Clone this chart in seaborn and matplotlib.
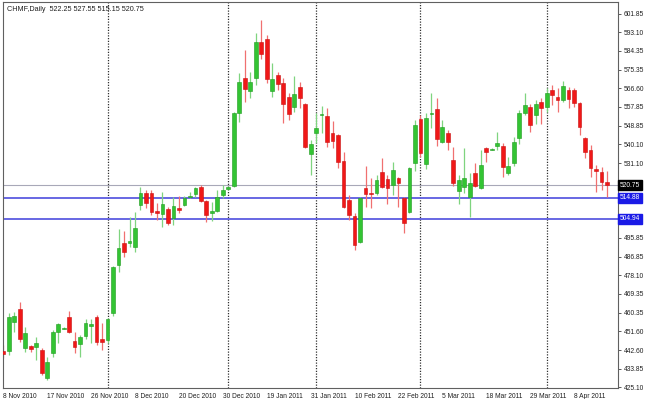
import numpy as np
import pandas as pd
import matplotlib
matplotlib.use("Agg")
import matplotlib.pyplot as plt
import seaborn as sns

# ==================== data: daily OHLC ====================
opens = [442.2, 442.2, 455.9, 462.1, 443.6, 444.5, 444.1, 442.6, 429.4, 441.2,
         451.2, 452.9, 458.3, 446.9, 445.5, 449.3, 454.0, 458.3, 447.8, 447.4,
         460.2, 482.9, 493.3, 493.3, 491.4, 511.3, 517.0, 517.0, 508.5, 507.1,
         509.5, 505.2, 509.9, 511.3, 515.1, 516.6, 519.9, 513.2, 507.6, 508.5,
         516.1, 519.2, 520.4, 554.9, 571.5, 565.4, 571.5, 588.6, 590.0, 565.4,
         573.0, 569.2, 562.5, 557.8, 567.3, 559.2, 535.5, 545.5, 553.9, 553.5,
         545.5, 544.5, 532.2, 513.7, 506.1, 493.8, 519.4, 517.0, 517.0, 527.0,
         523.7, 520.8, 524.1, 514.7, 508.0, 531.2, 552.1, 530.8, 554.5, 556.8,
         541.2, 545.5, 532.7, 518.0, 519.9, 515.1, 526.5, 519.4, 538.4, 537.6,
         539.3, 539.3, 526.5, 531.2, 543.1, 554.9, 557.8, 554.0, 560.2, 557.8,
         565.8, 562.5, 561.1, 565.8, 565.8, 559.7, 543.1, 537.4, 528.4, 527.0,
         522.25]
highs = [445.0, 460.2, 460.6, 465.4, 453.5, 445.0, 448.8, 443.6, 439.3, 452.1,
         455.4, 453.5, 461.1, 451.2, 449.7, 457.3, 457.3, 459.2, 455.4, 457.8,
         482.4, 500.0, 499.0, 505.7, 508.0, 519.9, 518.5, 518.5, 512.3, 517.5,
         510.4, 515.1, 515.6, 515.6, 517.5, 519.9, 520.8, 513.7, 512.8, 518.5,
         520.8, 520.3, 555.4, 573.9, 584.8, 574.4, 592.9, 599.0, 591.9, 578.6,
         574.4, 571.5, 564.4, 572.5, 569.6, 559.7, 542.1, 554.9, 558.3, 557.3,
         551.2, 545.0, 536.5, 516.1, 507.6, 515.1, 529.8, 524.1, 525.6, 533.6,
         525.6, 531.7, 524.6, 515.1, 529.4, 551.6, 554.0, 554.9, 564.4, 562.1,
         551.6, 546.9, 538.8, 525.6, 538.4, 526.5, 531.2, 537.4, 538.8, 538.2,
         546.0, 540.7, 534.1, 543.6, 556.4, 564.4, 559.2, 561.1, 562.1, 566.8,
         568.2, 566.8, 570.1, 567.3, 566.8, 560.2, 543.6, 539.8, 530.3, 529.4,
         527.55]
lows = [438.9, 440.3, 451.2, 446.4, 441.7, 441.7, 437.9, 430.8, 428.4, 439.3,
        445.9, 452.6, 450.7, 441.2, 439.3, 447.8, 445.9, 445.0, 442.6, 445.9,
        458.7, 479.6, 486.7, 491.4, 489.1, 509.0, 509.9, 506.6, 504.2, 500.9,
        501.9, 501.9, 507.6, 510.9, 514.7, 515.1, 512.8, 503.3, 503.8, 508.0,
        514.7, 518.4, 519.9, 550.7, 560.2, 562.1, 568.2, 580.5, 569.2, 562.5,
        565.8, 550.2, 551.6, 555.4, 557.3, 538.4, 525.6, 540.7, 545.5, 538.8,
        538.4, 528.9, 509.9, 504.2, 490.0, 493.3, 510.4, 509.9, 516.1, 519.4,
        511.8, 516.1, 510.4, 498.1, 507.6, 527.5, 534.1, 528.4, 547.8, 539.3,
        540.7, 537.4, 520.4, 511.8, 517.0, 505.7, 519.9, 518.9, 531.7, 537.4,
        537.4, 524.6, 525.6, 529.8, 540.3, 554.0, 546.0, 549.7, 549.7, 555.4,
        558.7, 555.4, 560.2, 557.3, 557.8, 544.5, 533.6, 524.6, 517.5, 518.5,
        515.15]
closes = [440.7, 458.3, 458.7, 447.8, 450.7, 443.1, 445.9, 431.7, 436.9, 451.2,
          455.0, 453.1, 451.2, 444.1, 448.8, 455.4, 455.0, 446.4, 446.4, 457.3,
          482.0, 491.0, 489.1, 494.3, 500.4, 517.0, 512.3, 508.0, 507.6, 511.8,
          502.8, 510.9, 509.0, 514.7, 515.6, 519.4, 513.2, 506.6, 508.5, 515.1,
          518.5, 519.6, 554.9, 569.6, 566.3, 569.6, 588.6, 582.9, 571.1, 571.1,
          568.7, 559.2, 554.5, 564.0, 562.1, 538.8, 540.3, 547.8, 554.5, 541.2,
          541.7, 531.7, 510.4, 506.6, 492.4, 514.7, 516.6, 516.6, 523.2, 519.9,
          519.4, 527.9, 521.8, 502.8, 528.9, 549.3, 536.0, 552.6, 554.9, 542.6,
          548.3, 541.2, 521.8, 523.2, 524.1, 521.8, 520.4, 530.3, 536.5, 537.9,
          540.7, 529.4, 529.8, 541.2, 554.9, 558.7, 549.3, 559.2, 557.3, 564.4,
          563.5, 561.1, 567.7, 561.6, 559.7, 548.3, 536.5, 528.9, 527.5, 522.2,
          520.75]

date_labels = ['8 Nov 2010', '17 Nov 2010', '26 Nov 2010', '8 Dec 2010', '20 Dec 2010',
               '30 Dec 2010', '19 Jan 2011', '31 Jan 2011', '10 Feb 2011', '22 Feb 2011',
               '5 Mar 2011', '18 Mar 2011', '29 Mar 2011', '8 Apr 2011']
label_bars = [0, 8, 16, 24, 32, 40, 48, 56, 64, 72, 80, 88, 96, 104]
month_bars = [19, 41, 57, 76, 99]
price_ticks = [601.85, 593.10, 584.35, 575.35, 566.60, 557.85, 548.85, 540.10, 531.10,
               522.35, 513.60, 504.85, 495.85, 486.85, 478.10, 469.35, 460.35, 451.60,
               442.60, 433.85, 425.10]
hidden_ticks = [522.35, 513.60, 504.85]   # covered by the price boxes
bid = 520.75
levels = [514.88, 504.94]
header = 'CHMF,Daily  522.25 527.55 515.15 520.75'

df = pd.DataFrame({'open': opens, 'high': highs, 'low': lows, 'close': closes})
df['bar'] = np.arange(len(df))
df['up'] = df['close'] >= df['open']

# ==================== style ====================
sns.set_style('white')
plt.rcParams['font.family'] = ['Liberation Sans', 'DejaVu Sans']
FS = 4.8
GREEN, GREEN_EDGE, GREEN_WICK = '#33c433', '#1f9a1f', '#7fd47f'
RED, RED_EDGE, RED_WICK = '#f01818', '#c81010', '#f07070'

fig = plt.figure(figsize=(6.5, 3.99), dpi=100)
ax = fig.add_axes([3 / 650, 11 / 399, 615 / 650, 386 / 399])

# month separators
for b in month_bars:
    ax.axvline(b, color='#303030', lw=0.9, ls=(0, (1, 1.2)), zorder=1)

# support / price lines
ax.axhline(bid, color='#a8a8b8', lw=0.8, zorder=1)
for lv in levels:
    ax.axhline(lv, color='#5c5ce0', lw=1.3, zorder=1)

# wicks + bodies
for up, wick, face, edge in [(True, GREEN_WICK, GREEN, GREEN_EDGE), (False, RED_WICK, RED, RED_EDGE)]:
    d = df[df['up'] == up]
    ax.vlines(d['bar'], d['low'], d['high'], color=wick, lw=0.9, zorder=2)
    body = np.maximum((d['close'] - d['open']).abs(), 0.5)
    ax.bar(d['bar'], body, bottom=np.minimum(d['open'], d['close']), width=0.68,
           color=face, edgecolor=edge, linewidth=0.4, zorder=3)

ax.set_xlim(-0.05, 112)
ax.set_ylim(424.8, 607.5)

ax.set_xticks(label_bars)
ax.set_xticklabels(date_labels, ha='left', fontsize=FS, color='#202020')
ax.yaxis.tick_right()
ax.set_yticks(price_ticks)
ax.set_yticklabels(['' if v in hidden_ticks else f'{v:.2f}' for v in price_ticks],
                   fontsize=FS, color='#202020')
ax.tick_params(axis='both', length=2, width=0.6, direction='out', pad=1.5, color='#404040')
ax.tick_params(axis='y', right=True, pad=2)

for s in ax.spines.values():
    s.set_color('#606060')
    s.set_linewidth(0.8)

# header text
ax.text(0.006, 0.99, header, transform=ax.transAxes, ha='left', va='top',
        fontsize=5.2, color='#202020')

# price boxes on the right scale
tr = ax.get_yaxis_transform()
ax.text(1.003, bid, f'{bid:.2f}', transform=tr, ha='left', va='center', fontsize=FS,
        color='white', clip_on=False, zorder=5,
        bbox=dict(boxstyle='square,pad=0.25', facecolor='black', edgecolor='black'))
for lv in levels:
    ax.text(1.003, lv, f'{lv:.2f}', transform=tr, ha='left', va='center', fontsize=FS,
            color='white', clip_on=False, zorder=5,
            bbox=dict(boxstyle='square,pad=0.25', facecolor='#1a1ae6', edgecolor='#1a1ae6'))

fig.savefig('out.png', dpi=100)
